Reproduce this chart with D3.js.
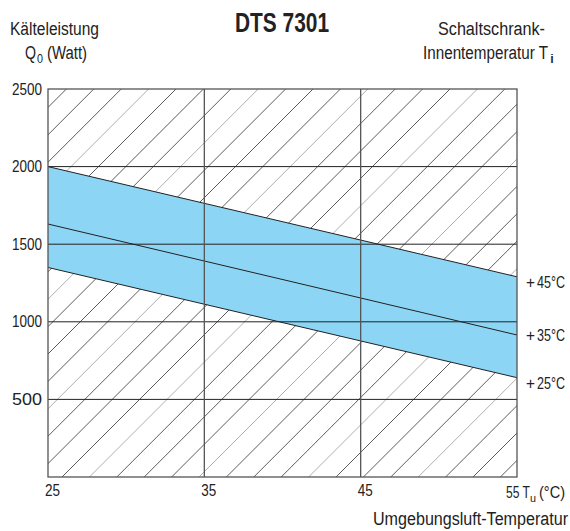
<!DOCTYPE html>
<html><head><meta charset="utf-8">
<script src="https://cdn.jsdelivr.net/npm/d3@7"></script>
<style>
body{margin:0;background:#fff;}
text{font-family:"Liberation Sans Narrow","Arial Narrow","Liberation Sans",sans-serif;fill:#222;}
</style></head>
<body>
<svg id="chart" width="570" height="531"></svg>
<script>
// ---- data ----
const xTicks = [25, 35, 45, 55];
const yTicks = [500, 1000, 1500, 2000, 2500];
const ambient = [25, 55];               // Tu (°C)
const q45 = [2000, 1290];               // Ti = +45 °C
const q35 = [1630, 915];                // Ti = +35 °C
const q25 = [1350, 640];                // Ti = +25 °C
const curveLabels = ["45\u00b0C", "35\u00b0C", "25\u00b0C"];
const title = "DTS 7301";

const svg = d3.select("#chart");
const L = 48, R = 517, T = 89, B = 477;
const x = d3.scaleLinear().domain([25, 55]).range([L, R]);
const y = d3.scaleLinear().domain([0, 2500]).range([B, T]);

function txt(px, py, size, anchor, width, weight) {
  const t = svg.append("text").attr("x", px).attr("y", py)
    .attr("text-anchor", anchor).style("font-size", size + "px");
  if (weight) t.style("font-weight", weight);
  if (width) t.attr("textLength", width).attr("lengthAdjust", "spacingAndGlyphs");
  return t;
}

// clip
svg.append("clipPath").attr("id","clip").append("rect")
  .attr("x",L).attr("y",T).attr("width",R-L).attr("height",B-T);

// hatching
const hatch = svg.append("g").attr("clip-path","url(#clip)");
const sp = 27.4, start = L + 14 - 20*sp;
for (let k = 0; k < 40; k++) {
  const x0 = start + k*sp;
  hatch.append("line").attr("x1",x0).attr("y1",B).attr("x2",x0+(B-T)).attr("y2",T)
    .attr("stroke", k%4===1 ? "#999" : "#333").attr("stroke-width",0.8);
}

// band
const pts = ambient.map((t,i)=>({t, hi:q45[i], mid:q35[i], lo:q25[i]}));
svg.append("path").datum(pts)
  .attr("d", d3.area().x(d=>x(d.t)).y0(d=>y(d.lo)).y1(d=>y(d.hi)))
  .attr("fill","#8dd5f4");
const line = k => d3.line().x(d=>x(d.t)).y(d=>y(d[k]));
["hi","mid","lo"].forEach(k=>{
  svg.append("path").datum(pts).attr("d", line(k)).attr("fill","none")
    .attr("stroke","#222").attr("stroke-width",1);
});

// grid
yTicks.filter(v=>v<2500).forEach(v=>{
  svg.append("line").attr("x1",L).attr("x2",R).attr("y1",y(v)).attr("y2",y(v))
    .attr("stroke","#222").attr("stroke-width",1);
});
xTicks.filter(v=>v>25 && v<55).forEach(v=>{
  svg.append("line").attr("x1",x(v)).attr("x2",x(v)).attr("y1",T).attr("y2",B)
    .attr("stroke","#555").attr("stroke-width",1.3);
});
svg.append("rect").attr("x",L).attr("y",T).attr("width",R-L).attr("height",B-T)
  .attr("fill","none").attr("stroke","#555").attr("stroke-width",1.3);

// axes labels
const yAxis = svg.append("g").attr("transform",`translate(${L},0)`)
  .call(d3.axisLeft(y).tickValues(yTicks).tickFormat(d3.format("d")).tickSize(0).tickPadding(6));
yAxis.select(".domain").remove();
yAxis.selectAll("text").style("font-size","16px").attr("fill","#222")
  .attr("textLength",30).attr("lengthAdjust","spacingAndGlyphs");

const xAxis = svg.append("g").attr("transform",`translate(0,${B})`)
  .call(d3.axisBottom(x).tickValues(xTicks.slice(0,3)).tickFormat(d3.format("d")).tickSize(0).tickPadding(8));
xAxis.select(".domain").remove();
xAxis.selectAll("text").style("font-size","16px").attr("fill","#222").attr("dx","4")
  .attr("textLength",15).attr("lengthAdjust","spacingAndGlyphs");

// "55 Tu (°C)" built from separate pieces
txt(506, 498, 16, "start", 24).text(xTicks[3] + " T");
txt(530, 502, 11, "start", 6).text("u");
txt(539, 498, 16, "start", 26).text("(\u00b0C)");
txt(568, 525, 18, "end", 195).text("Umgebungsluft-Temperatur");

// curve labels
const labelY = [288, 341, 389];
curveLabels.forEach((s,i)=> {
  txt(526, labelY[i], 16, "start", 9).text("+");
  txt(537, labelY[i], 16, "start", 28).text(s);
});

// title and axis titles
txt(282, 32, 27, "middle", 94, "bold").text(title);
txt(10, 35, 18, "start", 89).text("K\u00e4lteleistung");
txt(25, 59, 18, "start", 11).text("Q");
txt(37, 63, 12, "start", 6).text("0");
txt(47, 59, 18, "start", 40).text("(Watt)");
txt(438, 35, 18, "start", 107).text("Schaltschrank-");
txt(423, 59, 18, "start", 125).text("Innentemperatur T");
txt(550, 63, 12, "start", 4).text("i");
</script>
</body></html>
